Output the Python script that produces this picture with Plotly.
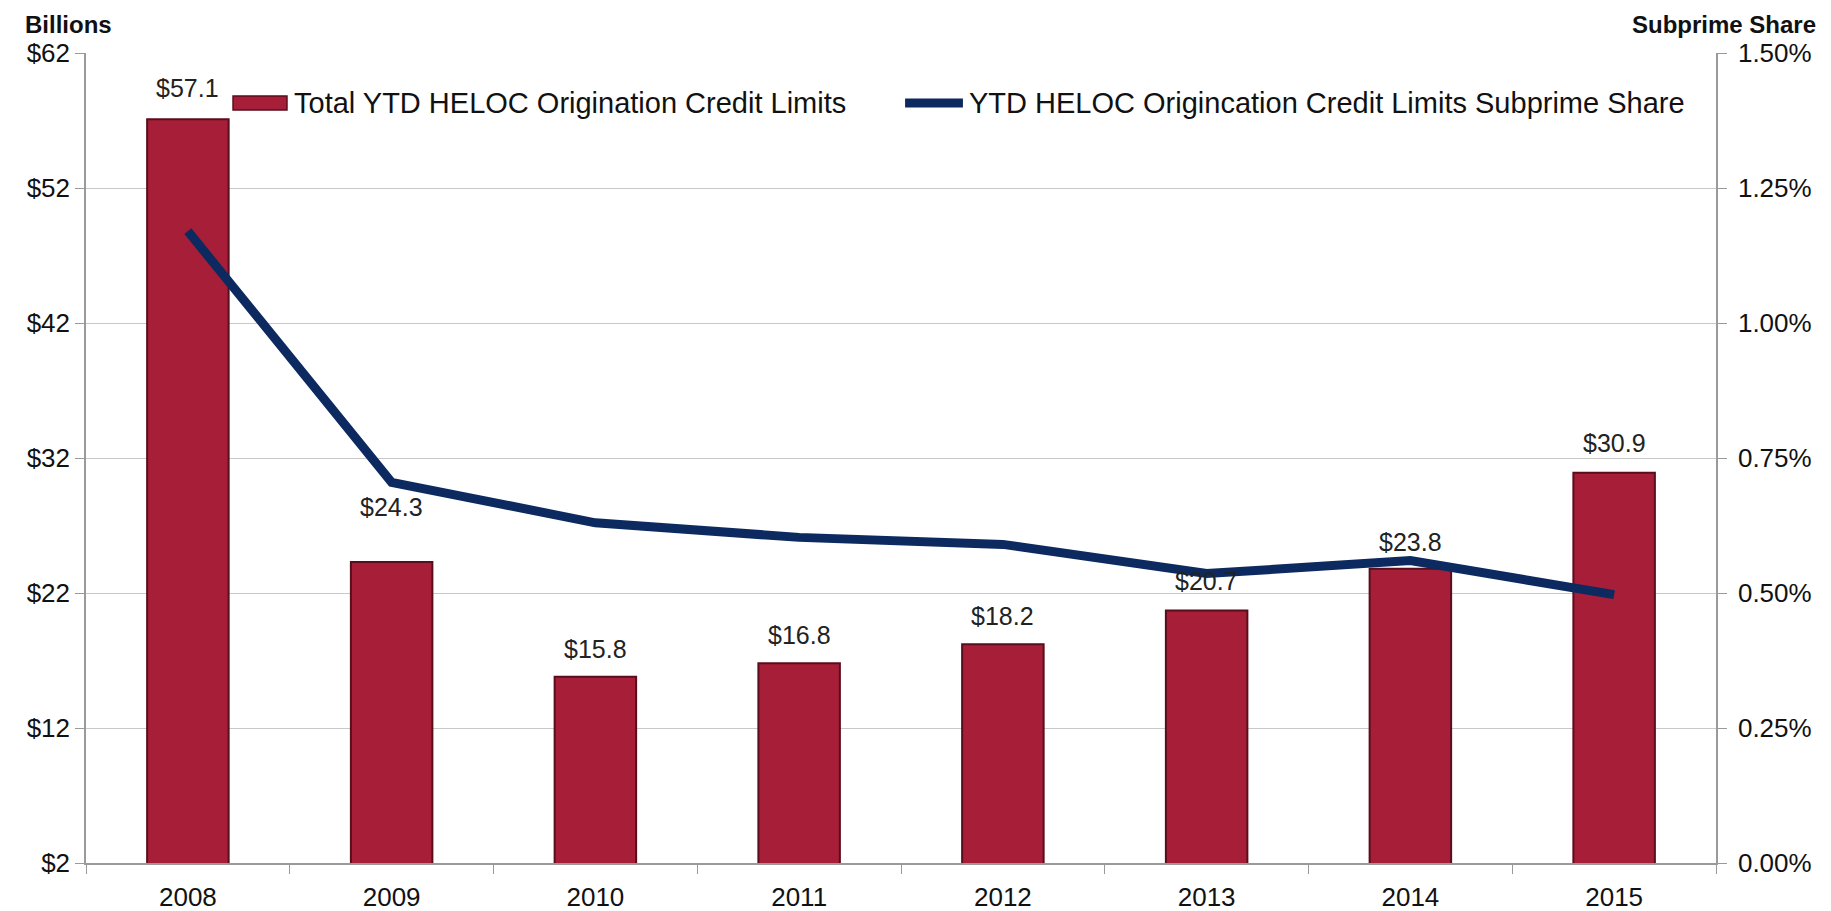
import plotly.graph_objects as go

years = ["2008", "2009", "2010", "2011", "2012", "2013", "2014", "2015"]
credit_limits = [57.1, 24.3, 15.8, 16.8, 18.2, 20.7, 23.8, 30.9]
subprime_share = [0.01170, 0.00705, 0.00630, 0.00603, 0.00590, 0.00536, 0.00560, 0.00497]
y_ticks = [2, 12, 22, 32, 42, 52, 62]
y_tick_labels = ["$2", "$12", "$22", "$32", "$42", "$52", "$62"]
y2_ticks = [0, 0.0025, 0.005, 0.0075, 0.01, 0.0125, 0.015]

bar_name = "Total YTD HELOC Origination Credit Limits"
line_name = "YTD HELOC Origincation Credit Limits Subprime Share"

# styling: vertical offset (px) of each bar's data label above the bar end
label_offsets = [31, 55, 28, 28, 28, 30, 27, 30]

FONT = "Liberation Sans, Arial, sans-serif"
BAR_COLOR = "#a61e38"
BAR_EDGE = "#5a0d1b"
LINE_COLOR = "#0c2a5f"

fig = go.Figure()
fig.add_trace(go.Bar(
    x=years, y=credit_limits, name=bar_name,
    marker=dict(color=BAR_COLOR, line=dict(color=BAR_EDGE, width=2)),
    width=0.4, hoverinfo="skip", showlegend=False,
))
fig.add_trace(go.Scatter(
    x=years, y=subprime_share, yaxis="y2", name=line_name,
    mode="lines", line=dict(color=LINE_COLOR, width=9),
    hoverinfo="skip", showlegend=False,
))

annotations = []
for i, (v, off) in enumerate(zip(credit_limits, label_offsets)):
    # i is the category index of the bar on the category x axis
    annotations.append(dict(
        x=i, y=v, xref="x", yref="y", text="$" + f"{v:.1f}", showarrow=False,
        yshift=off, yanchor="middle", font=dict(size=25, color="#222222", family=FONT),
    ))

# axis titles
annotations += [
    dict(text="<b>Billions</b>", xref="paper", yref="paper", x=-0.0387, y=1.0,
         xanchor="left", yanchor="middle", yshift=29, showarrow=False,
         font=dict(size=24, family=FONT, color="#111111")),
    dict(text="<b>Subprime Share</b>", xref="paper", yref="paper", x=1.0625, y=1.0,
         xanchor="right", yanchor="middle", yshift=29, showarrow=False,
         font=dict(size=24, family=FONT, color="#111111")),
]

# manual legend
leg_y = 0.9383
annotations += [
    dict(text=bar_name, xref="paper", yref="paper", x=0.1264, y=leg_y,
         xanchor="left", yanchor="middle", showarrow=False,
         font=dict(size=29, family=FONT, color="#111111")),
    dict(text=line_name, xref="paper", yref="paper", x=0.5405, y=leg_y,
         xanchor="left", yanchor="middle", showarrow=False,
         font=dict(size=29, family=FONT, color="#111111")),
]
shapes = [
    dict(type="rect", xref="paper", yref="paper", x0=0.0902, x1=0.1233,
         y0=0.9296, y1=0.9469, fillcolor=BAR_COLOR, line=dict(color=BAR_EDGE, width=1.5)),
    dict(type="line", xref="paper", yref="paper", x0=0.5025, x1=0.538,
         y0=leg_y, y1=leg_y, line=dict(color=LINE_COLOR, width=9)),
]

fig.update_layout(
    width=1831, height=911,
    margin=dict(l=86, r=115, t=53, b=48, autoexpand=False),
    plot_bgcolor="white", paper_bgcolor="white",
    font=dict(family=FONT, size=26, color="#111111"),
    showlegend=False,
    bargap=0.6,
    xaxis=dict(
        type="category", range=[-0.5, len(years) - 0.5], automargin=False,
        showline=True, linecolor="#9a9a9a", linewidth=1.5,
        ticks="outside", tickson="boundaries", ticklen=9, tickcolor="#9a9a9a",
        tickfont=dict(size=26, family=FONT), showgrid=False, tickangle=0,
        ticklabelstandoff=10,
    ),
    yaxis=dict(
        range=[2, 62], tickvals=y_ticks, ticktext=y_tick_labels, automargin=False,
        showline=True, linecolor="#9a9a9a", linewidth=1.5,
        ticks="outside", ticklen=9, tickcolor="#9a9a9a",
        showgrid=True, gridcolor="#c9c9c9", gridwidth=1.2,
        zeroline=False, tickfont=dict(size=26, family=FONT),
    ),
    yaxis2=dict(
        range=[0, 0.015], tickvals=y2_ticks, tickformat=".2%", automargin=False,
        overlaying="y", side="right", showline=True, linecolor="#9a9a9a", linewidth=1.5,
        ticks="outside", ticklen=9, tickcolor="#9a9a9a",
        showgrid=False, zeroline=False, tickfont=dict(size=26, family=FONT),
        ticklabelstandoff=6,
    ),
    annotations=annotations,
    shapes=shapes,
)

fig.write_html("out.html")
